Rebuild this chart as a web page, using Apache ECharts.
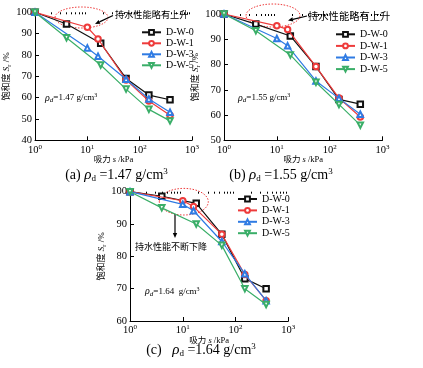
<!DOCTYPE html>
<html><head><meta charset="utf-8">
<script src="https://cdn.jsdelivr.net/npm/echarts@6/dist/echarts.min.js"></script>
<style>html,body{margin:0;padding:0;background:#fff}#c{width:423px;height:368px}</style>
</head><body><div id="c"></div>
<script>
// ---------- data ----------
const seriesNames = ['D-W-0', 'D-W-1', 'D-W-3', 'D-W-5'];
// suction s (kPa): D-W-0 & D-W-5 share one set, D-W-1 & D-W-3 the other
const suctionP = [1, 4, 18, 55, 150, 380];
const suctionQ = [1, 10, 16, 55, 150, 380];
// (a) rho_d = 1.47
const satA_W0 = [100, 94.5, 85.5, 69.0, 61.2, 59.0];
const satA_W1 = [100, 93.0, 87.5, 68.3, 58.4, 51.8];
const satA_W3 = [100, 83.3, 79.4, 68.6, 59.4, 53.2];
const satA_W5 = [100, 88.1, 75.3, 64.0, 54.5, 49.1];
// (b) rho_d = 1.55
const satB_W0 = [100, 96.0, 91.3, 79.2, 66.2, 64.3];
const satB_W1 = [100, 95.3, 93.9, 79.2, 66.7, 59.2];
const satB_W3 = [100, 90.3, 87.4, 73.5, 66.6, 60.3];
const satB_W5 = [100, 93.4, 83.8, 73.0, 64.2, 56.0];
// (c) rho_d = 1.64
const satC_W0 = [100, 98.6, 96.4, 86.8, 73.1, 70.0];
const satC_W1 = [100, 97.2, 95.4, 86.8, 74.4, 66.3];
const satC_W3 = [100, 96.1, 94.1, 84.6, 74.6, 66.3];
const satC_W5 = [100, 95.0, 90.0, 83.4, 70.0, 65.1];
// axes
const xMajorTicks = [1, 10, 100, 1000];
const xMinorTicks = [2,3,4,5,6,7,8,9,20,30,40,50,60,70,80,90,200,300,400,500,600,700,800,900];
const yRanges = [[40, 100], [50, 100], [60, 100]];
const densities = ['1.47', '1.55', '1.64'];
const panelLetters = ['a', 'b', 'c'];

// ---------- style ----------
const SERIF = '"Liberation Serif","Times New Roman","Noto Sans CJK SC",serif';
const colors = ['#111111', '#ee3b3b', '#2f7be3', '#3aae68'];
const symbols = ['emptyRect', 'emptyCircle', 'emptyTriangle', 'emptyTriangle'];
const rotates = [0, 0, 0, 180];
const grids = [
  {left: 35, top: 12.3, width: 157, height: 128},
  {left: 224, top: 14, width: 158.5, height: 126.3},
  {left: 130, top: 191.7, width: 158.3, height: 129.3}
];
const legendPos = [
  {left: 141, top: 27.3, itemGap: 1},
  {left: 335, top: 29.3, itemGap: 1.6},
  {left: 237, top: 194, itemGap: 1.4}
];

const satData = [
  [satA_W0, satA_W1, satA_W3, satA_W5],
  [satB_W0, satB_W1, satB_W3, satB_W5],
  [satC_W0, satC_W1, satC_W3, satC_W5]
];
const suctionFor = [suctionP, suctionQ, suctionQ, suctionP];

const xAxes = [], yAxes = [], series = [], legends = [];
for (let p = 0; p < 3; p++) {
  xAxes.push({
    type: 'log', logBase: 10, min: xMajorTicks[0], max: xMajorTicks[3], gridIndex: p,
    axisLine: {onZero: false, lineStyle: {color: '#000', width: 1}},
    axisTick: {inside: true, length: 4, lineStyle: {color: '#000'}},
    splitLine: {show: false},
    axisLabel: {
      margin: 3, color: '#000', fontFamily: SERIF, fontSize: 10.5,
      formatter: v => '10{s|' + Math.round(Math.log10(v)) + '}',
      rich: {s: {fontSize: 7, fontFamily: SERIF, color: '#000', padding: [0, 0, 6, 0]}}
    },
    name: '吸力 {i|s} /kPa', nameLocation: 'middle', nameGap: 10,
    nameTextStyle: {color: '#000', fontFamily: SERIF, fontSize: 8.5,
      rich: {i: {fontStyle: 'italic', fontFamily: SERIF, fontSize: 8.5, color: '#000'}}}
  });
  yAxes.push({
    type: 'value', min: yRanges[p][0], max: yRanges[p][1], interval: 10, gridIndex: p,
    axisLine: {show: true, lineStyle: {color: '#000', width: 1}},
    axisTick: {inside: true, length: 4, lineStyle: {color: '#000'}},
    splitLine: {show: false},
    axisLabel: {margin: 3, color: '#000', fontFamily: SERIF, fontSize: 10.5},
    name: '饱和度 {i|S}{sub|r} /%', nameLocation: 'middle', nameGap: 13,
    nameTextStyle: {color: '#000', fontFamily: SERIF, fontSize: 9,
      rich: {
        i: {fontStyle: 'italic', fontFamily: SERIF, fontSize: 9, color: '#000'},
        sub: {fontFamily: SERIF, fontSize: 6.5, color: '#000', padding: [4, 0, 0, 0]}
      }}
  });
  for (let k = 0; k < 4; k++) {
    series.push({
      type: 'line', name: seriesNames[k], xAxisIndex: p, yAxisIndex: p,
      data: suctionFor[k].map((s, i) => [s, satData[p][k][i]]),
      symbol: symbols[k], symbolSize: 5.5, symbolRotate: rotates[k],
      color: colors[k],
      lineStyle: {width: 1.2, color: colors[k]},
      itemStyle: {color: colors[k], borderWidth: 1},
      z: 2 + k
    });
  }
  legends.push({
    orient: 'vertical', left: legendPos[p].left, top: legendPos[p].top,
    itemWidth: 19, itemHeight: 6, itemGap: legendPos[p].itemGap, padding: 0,
    textStyle: {fontFamily: SERIF, fontSize: 10, color: '#000'},
    data: seriesNames
  });
}
// minor ticks axes (decoration only)
for (let p = 0; p < 3; p++) {
  xAxes.push({
    type: 'log', logBase: 10, min: 1, max: 1000, gridIndex: p,
    axisLine: {show: false}, axisLabel: {show: false}, splitLine: {show: false},
    axisTick: {show: true, inside: true, length: 2, customValues: xMinorTicks, lineStyle: {color: '#000'}}
  });
}

// ---------- annotations ----------
const RED = '#ee3b3b';
function arrow(x1, y1, x2, y2) {
  const dx = x2 - x1, dy = y2 - y1, L = Math.hypot(dx, dy);
  const ux = dx / L, uy = dy / L, hl = 5, hw = 2.2;
  const bx = x2 - ux * hl, by = y2 - uy * hl;
  return [
    {type: 'line', shape: {x1, y1, x2: bx, y2: by}, style: {stroke: '#000', lineWidth: 1.2}},
    {type: 'polygon', shape: {points: [[x2, y2], [bx - uy * hw, by + ux * hw], [bx + uy * hw, by - ux * hw]]}, style: {fill: '#000'}}
  ];
}
function rhoText(x, y, d, extra) {
  return {type: 'text', style: {
    x, y, text: '{i|ρ}{sub|d}=' + d + (extra || ' ') + 'g/cm{sup|3}', align: 'left', verticalAlign: 'middle',
    fontFamily: SERIF, fontSize: 9, fill: '#000',
    rich: {
      i: {fontStyle: 'italic', fontFamily: SERIF, fontSize: 10, fill: '#000'},
      sub: {fontStyle: 'italic', fontFamily: SERIF, fontSize: 7, fill: '#000', padding: [4, 0, 0, 0]},
      sup: {fontFamily: SERIF, fontSize: 6, fill: '#000', padding: [0, 0, 5, 0]}
    }
  }};
}
function caption(x, y, letter, d, gap) {
  return {type: 'text', style: {
    x, y, text: '(' + letter + ')' + gap + '{i|ρ}{sub|d} =' + d + ' g/cm{sup|3}', align: 'center', verticalAlign: 'middle',
    fontFamily: SERIF, fontSize: 14, fill: '#000',
    rich: {
      i: {fontStyle: 'italic', fontFamily: SERIF, fontSize: 15, fill: '#000'},
      sub: {fontFamily: SERIF, fontSize: 9, fill: '#000', padding: [7, 0, 0, 0]},
      sup: {fontFamily: SERIF, fontSize: 9, fill: '#000', padding: [0, 0, 7, 0]}
    }
  }};
}
const graphics = [
  {type: 'ellipse', shape: {cx: 81.5, cy: 17.5, rx: 26.5, ry: 10.5}, style: {fill: 'none', stroke: RED, lineWidth: 1, lineDash: [1.5, 1.5]}},
  {type: 'ellipse', shape: {cx: 273, cy: 15.5, rx: 27, ry: 11.5}, style: {fill: 'none', stroke: RED, lineWidth: 1, lineDash: [1.5, 1.5]}},
  {type: 'ellipse', shape: {cx: 183.8, cy: 201.7, rx: 24.5, ry: 13.3}, style: {fill: 'none', stroke: RED, lineWidth: 1, lineDash: [1.5, 1.5]}},
  ...arrow(113, 15.5, 95, 24),
  ...arrow(307, 16, 288, 20.5),
  ...arrow(175, 214, 175, 238),
  {type: 'text', style: {x: 115, y: 15, text: '持水性能略有上升', align: 'left', verticalAlign: 'middle', fontFamily: '"Noto Sans CJK SC"', fontSize: 9.2, fill: '#000'}},
  {type: 'text', style: {x: 308, y: 15.7, text: '持水性能略有上升', align: 'left', verticalAlign: 'middle', fontFamily: '"Noto Sans CJK SC"', fontSize: 10.3, fill: '#000'}},
  {type: 'text', style: {x: 135, y: 246.7, text: '持水性能不断下降', align: 'left', verticalAlign: 'middle', fontFamily: '"Noto Sans CJK SC"', fontSize: 9, fill: '#000'}},
  rhoText(45, 98, densities[0]),
  rhoText(238, 98, densities[1]),
  rhoText(145, 291.7, densities[2], '  '),
  caption(116.5, 175, panelLetters[0], densities[0], ' '),
  caption(281, 175, panelLetters[1], densities[1], ' '),
  caption(201, 350, panelLetters[2], densities[2], '   ')
];

const chart = echarts.init(document.getElementById('c'), null, {renderer: 'canvas'});
chart.setOption({
  backgroundColor: '#fff',
  animation: false,
  grid: grids,
  xAxis: xAxes,
  yAxis: yAxes,
  legend: legends,
  series: series,
  graphic: graphics
});
</script></body></html>
